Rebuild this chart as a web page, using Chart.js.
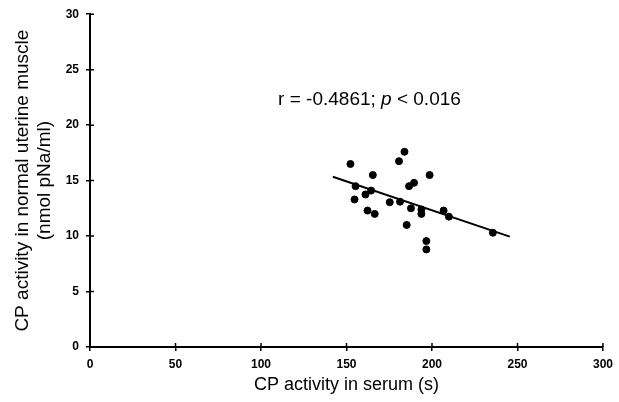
<!DOCTYPE html>
<html>
<head>
<meta charset="utf-8">
<script src="https://cdn.jsdelivr.net/npm/chart.js@4.4.0/dist/chart.umd.min.js"></script>
<style>
    html, body { margin: 0; padding: 0; background: #fff; }
    #wrap { width: 619px; height: 402px; }
</style>
</head>
<body>
<div id="wrap"><canvas id="cpChart" width="619" height="402"></canvas></div>
<script>
// serum CP activity (s) vs uterine muscle CP activity (nmol pNa/ml)
const serumValues = [152.3, 165.4, 183.9, 180.7, 198.6, 189.5, 186.6, 155.3, 161.1, 164.4, 154.7, 162.3,
    166.5, 175.3, 181.3, 187.7, 193.8, 193.8, 185.2, 206.8, 209.9, 196.7, 196.7, 235.6];
const muscleValues = [16.5, 15.5, 17.6, 16.75, 15.5, 14.8, 14.5, 14.5, 13.75, 14.1, 13.3, 12.3,
    12.0, 13.05, 13.1, 12.5, 12.4, 12.0, 11.0, 12.3, 11.75, 9.55, 8.8, 10.3];

// regression line end points
const fitX = [142, 245.5];
const fitY = [15.35, 9.95];

const xTicks = [0, 50, 100, 150, 200, 250, 300];
const yTicks = [0, 5, 10, 15, 20, 25, 30];

const statText = ['r = -0.4861; ', 'p', ' < 0.016'];

const FONT = "'Liberation Sans', Arial, Helvetica, sans-serif";

function toPoints(xs, ys) {
    return xs.map((x, i) => ({ x: x, y: ys[i] }));
}

// ticks that cross the axis line (inner half)
const crossTicks = {
    id: 'crossTicks',
    afterDraw(chart) {
        const ctx = chart.ctx;
        const xs = chart.scales.x;
        const ys = chart.scales.y;
        const area = chart.chartArea;
        ctx.save();
        ctx.strokeStyle = '#000';
        ctx.lineWidth = 1.5;
        ctx.beginPath();
        yTicks.forEach(v => {
            const py = ys.getPixelForValue(v);
            ctx.moveTo(area.left, py);
            ctx.lineTo(area.left + 4, py);
        });
        xTicks.forEach(v => {
            const px = xs.getPixelForValue(v);
            ctx.moveTo(px, area.bottom);
            ctx.lineTo(px, area.bottom - 4);
        });
        ctx.stroke();
        ctx.restore();
    }
};

// correlation text with italic p
const statLabel = {
    id: 'statLabel',
    afterDraw(chart) {
        const ctx = chart.ctx;
        let px = chart.scales.x.getPixelForValue(110);
        const py = chart.scales.y.getPixelForValue(22.3);
        ctx.save();
        ctx.fillStyle = '#000';
        ctx.textBaseline = 'middle';
        ctx.textAlign = 'left';
        statText.forEach((part, i) => {
            ctx.font = (i === 1 ? 'italic ' : '') + '19px ' + FONT;
            ctx.fillText(part, px, py);
            px += ctx.measureText(part).width;
        });
        ctx.restore();
    }
};

new Chart(document.getElementById('cpChart'), {
    type: 'scatter',
    data: {
        datasets: [{
            label: 'samples',
            data: toPoints(serumValues, muscleValues),
            backgroundColor: '#000',
            borderColor: '#000',
            pointRadius: 3.5,
            pointHoverRadius: 3.5
        }, {
            label: 'fit',
            type: 'line',
            data: toPoints(fitX, fitY),
            borderColor: '#000',
            borderWidth: 2,
            pointRadius: 0,
            fill: false
        }]
    },
    options: {
        responsive: false,
        animation: false,
        devicePixelRatio: 1,
        layout: { padding: { top: 14, right: 15, left: 0, bottom: 0 } },
        plugins: {
            legend: { display: false },
            tooltip: { enabled: false }
        },
        scales: {
            x: {
                type: 'linear',
                min: 0,
                max: 300,
                afterBuildTicks: s => { s.ticks = xTicks.map(v => ({ value: v })); },
                afterFit: s => { s.height = 55; },
                border: { display: true, color: '#000', width: 2 },
                grid: { drawOnChartArea: false, color: '#000', lineWidth: 1.5, tickLength: 4 },
                ticks: {
                    color: '#000',
                    padding: 6,
                    maxRotation: 0,
                    font: { family: FONT, size: 12, weight: 'bold' }
                },
                title: {
                    display: true,
                    text: 'CP activity in serum (s)',
                    color: '#000',
                    padding: { top: 0, bottom: 6 },
                    font: { family: FONT, size: 18, lineHeight: 1.2 }
                }
            },
            y: {
                type: 'linear',
                min: 0,
                max: 30,
                afterBuildTicks: s => { s.ticks = yTicks.map(v => ({ value: v })); },
                afterFit: s => { s.width = 90; },
                border: { display: true, color: '#000', width: 2 },
                grid: { drawOnChartArea: false, color: '#000', lineWidth: 1.5, tickLength: 4 },
                ticks: {
                    color: '#000',
                    padding: 7,
                    font: { family: FONT, size: 12, weight: 'bold' }
                },
                title: {
                    display: true,
                    text: ['CP activity in normal uterine muscle', '(nmol pNa/ml)'],
                    color: '#000',
                    padding: { top: 11, bottom: 0 },
                    font: { family: FONT, size: 19, lineHeight: 1.2 }
                }
            }
        }
    },
    plugins: [crossTicks, statLabel]
});
</script>
</body>
</html>
